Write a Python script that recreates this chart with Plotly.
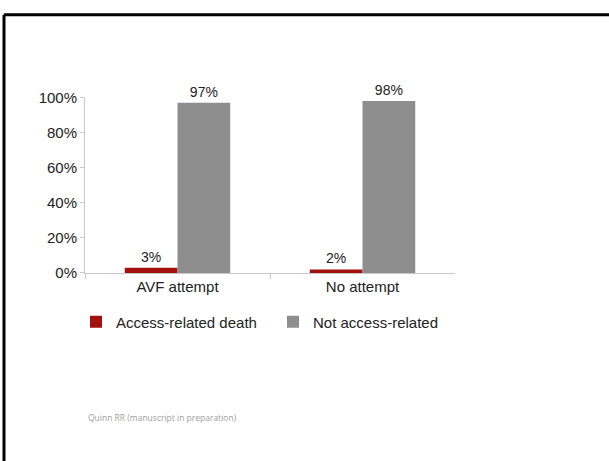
import plotly.graph_objects as go

# Outcome of vascular access attempts
categories = ["AVF attempt", "No attempt"]
access_related = [3, 2]
not_access_related = [97, 98]
series_names = ["Access-related death", "Not access-related"]
y_ticks = [0, 20, 40, 60, 80, 100]
y_tick_labels = [f"{v}%" for v in y_ticks]

W, H = 609, 461
RED = "#a3110f"
GREY = "#8e8e8e"
FONT = "Liberation Sans, Arial, sans-serif"

fig = go.Figure()
for name, vals, col in [(series_names[0], access_related, RED),
                        (series_names[1], not_access_related, GREY)]:
    fig.add_trace(go.Bar(
        x=categories, y=vals, name=name,
        marker=dict(color=col, line=dict(width=0)),
        text=[f"{v}%" for v in vals], textposition="outside",
        textfont=dict(size=14, color="#222222", family=FONT),
        cliponaxis=False,
    ))

fig.update_layout(
    width=W, height=H,
    margin=dict(l=0, r=0, t=0, b=0),
    paper_bgcolor="white", plot_bgcolor="white",
    barmode="group", bargap=0.43, bargroupgap=0,
    font=dict(family=FONT, size=15, color="#222222"),
    xaxis=dict(
        domain=[85 / W, 455 / W],
        showline=True, linecolor="#c8c8c8", linewidth=1,
        ticks="outside", ticklen=5, tickcolor="#c8c8c8",
        tickson="boundaries", showgrid=False,
        tickfont=dict(size=15, color="#222222"),
    ),
    yaxis=dict(
        domain=[1 - 274 / H, 1 - 92 / H],
        range=[0, 100],
        tickvals=y_ticks, ticktext=y_tick_labels,
        showline=True, linecolor="#c8c8c8", linewidth=1,
        ticks="outside", ticklen=4, tickcolor="#c8c8c8",
        showgrid=False, zeroline=False,
        tickfont=dict(size=15, color="#222222"),
    ),
    legend=dict(
        orientation="h", x=76 / W, xanchor="left",
        y=1 - 325 / H, yanchor="middle",
        font=dict(size=15, color="#222222"),
        entrywidth=152, entrywidthmode="pixels",
        itemwidth=30,
        bgcolor="rgba(0,0,0,0)",
    ),
    showlegend=True,
)

# Slide frame (top and left edges)
fig.add_shape(type="line", xref="paper", yref="paper",
              x0=4 / W, x1=1.02, y0=1 - 6 / H, y1=1 - 6 / H,
              line=dict(color="black", width=3))
fig.add_shape(type="line", xref="paper", yref="paper",
              x0=4 / W, x1=4 / W, y0=-0.02, y1=1 - 6 / H,
              line=dict(color="black", width=3))

# Source note
fig.add_annotation(
    text="Quinn RR (manuscript in preparation)",
    xref="paper", yref="paper", x=86 / W, y=1 - 424 / H,
    xanchor="left", yanchor="middle", showarrow=False,
    font=dict(size=8.5, color="#a0a0a0", family="Open Sans, sans-serif"),
)

fig.write_html("out.html")
